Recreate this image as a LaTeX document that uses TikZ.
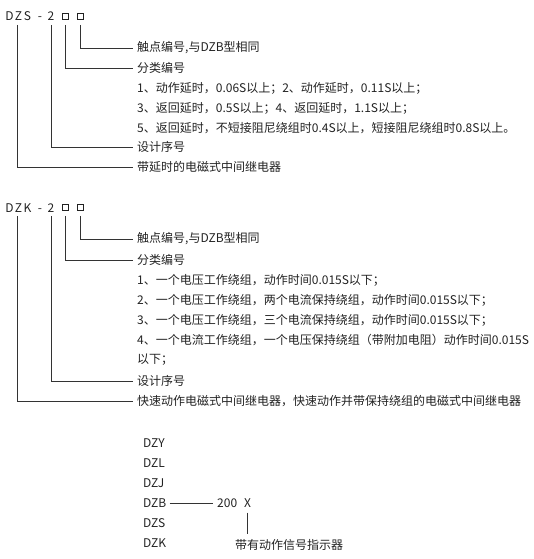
\documentclass[tikz,border=0pt]{standalone}
\usepackage{fontspec}
\setmainfont{Noto Sans CJK SC}
\definecolor{ink}{HTML}{222222}
\definecolor{linec}{HTML}{333333}
\begin{document}
\begin{tikzpicture}[x=1pt,y=-1pt,
  txt/.style={anchor=west,inner sep=0pt,font=\fontsize{12}{14}\selectfont,text=ink},
  hd/.style={anchor=base,inner sep=0pt,font=\fontsize{12}{14}\selectfont,text=ink},
  sq/.style={draw=ink,minimum size=6pt,inner sep=0pt,line width=0.6pt},
  ln/.style={draw=linec,line width=0.8pt}]
\useasboundingbox (0,0) rectangle (534,559);
% ---------- block 1 ----------
\node[hd] (aD) at (9.5,21) {D};
\node[hd] (aZ) at (18.5,21) {Z};
\node[hd] (aS) at (27.5,21) {S};
\node[hd] (aM) at (40,21) {-};
\node[hd] (a2) at (51,21) {2};
\node[sq] (ab1) at (65,16.5) {};
\node[sq] (ab2) at (80.5,16.5) {};
\coordinate (aL) at (17,25);
\node[txt] (at1) at (137,48) {触点编号,与DZB型相同};
\node[txt] (at2) at (137,68) {分类编号};
\node[txt] (at3) at (137,88) {1、动作延时，0.06S以上；2、动作延时，0.11S以上；};
\node[txt] (at4) at (137,108) {3、返回延时，0.5S以上；4、返回延时，1.1S以上；};
\node[txt] (at5) at (137,128) {5、返回延时，不短接阻尼绕组时0.4S以上，短接阻尼绕组时0.8S以上。};
\node[txt] (at6) at (137,147) {设计序号};
\node[txt] (at7) at (137,167) {带延时的电磁式中间继电器};
\draw[ln] (ab2.south) ++(0,5) |- ([xshift=-4pt]at1.west);
\draw[ln] (ab1.south) ++(0,5) |- ([xshift=-4pt]at2.west);
\draw[ln] (a2.south) ++(0,4) |- ([xshift=-4pt]at6.west);
\draw[ln] (aL) |- ([xshift=-4pt]at7.west);
% ---------- block 2 ----------
\node[hd] (bD) at (9.5,212) {D};
\node[hd] (bZ) at (18.5,212) {Z};
\node[hd] (bK) at (27.5,212) {K};
\node[hd] (bM) at (40,212) {-};
\node[hd] (b2) at (51,212) {2};
\node[sq] (bb1) at (65,207.5) {};
\node[sq] (bb2) at (80.5,207.5) {};
\coordinate (bL) at (17,216);
\node[txt] (bt1) at (137,239) {触点编号,与DZB型相同};
\node[txt] (bt2) at (137,260) {分类编号};
\node[txt] (bt3) at (137,280) {1、一个电压工作绕组，动作时间0.015S以下；};
\node[txt] (bt4) at (137,300) {2、一个电压工作绕组，两个电流保持绕组，动作时间0.015S以下；};
\node[txt] (bt5) at (137,320) {3、一个电压工作绕组，三个电流保持绕组，动作时间0.015S以下；};
\node[txt] (bt6) at (137,340) {4、一个电流工作绕组，一个电压保持绕组（带附加电阻）动作时间0.015S};
\node[txt] (bt7) at (137,360) {以下；};
\node[txt] (bt8) at (137,381) {设计序号};
\node[txt] (bt9) at (137,401) {快速动作电磁式中间继电器，快速动作并带保持绕组的电磁式中间继电器};
\draw[ln] (bb2.south) ++(0,5) |- ([xshift=-4pt]bt1.west);
\draw[ln] (bb1.south) ++(0,5) |- ([xshift=-4pt]bt2.west);
\draw[ln] (b2.south) ++(0,4) |- ([xshift=-4pt]bt8.west);
\draw[ln] (bL) |- ([xshift=-4pt]bt9.west);
% ---------- block 3 ----------
\node[txt] (cY) at (143,443) {DZY};
\node[txt] (cL) at (143,463) {DZL};
\node[txt] (cJ) at (143,483) {DZJ};
\node[txt] (cB) at (143,503) {DZB};
\node[txt] (cS) at (143,523) {DZS};
\node[txt] (cK) at (143,543) {DZK};
\node[txt] (c200) at (217,503) {200};
\node[txt] (cX) at (244,503) {X};
\node[txt] (cI) at (235,545) {带有动作信号指示器};
\draw[ln] ([xshift=3pt]cB.east) -- ([xshift=-4pt]c200.west);
\draw[ln] ([yshift=-5pt]cX.south) -- ([yshift=5pt]cI.north -| cX.south);
\end{tikzpicture}
\end{document}
